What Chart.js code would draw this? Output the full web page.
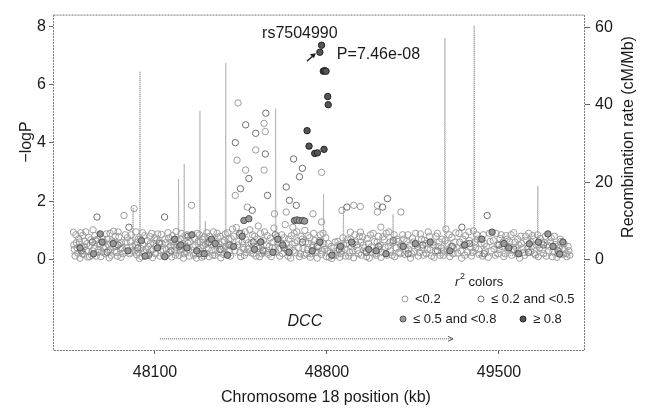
<!DOCTYPE html>
<html>
<head>
<meta charset="utf-8">
<script src="https://cdn.jsdelivr.net/npm/chart.js@4.4.1/dist/chart.umd.min.js"></script>
<style>
  body { margin: 0; background: #fff; }
  #wrap { width: 652px; height: 409px; position: relative; }
</style>
</head>
<body>
<div id="wrap"><canvas id="locus"></canvas></div>
<script>
// DATA (position in kb, -logP)
const xTicks = [48100, 48800, 49500];
const logpTicks = [0, 2, 4, 6, 8];
const recombTicks = [0, 20, 40, 60];

// r2 < 0.2
const lowPts = [
  [47768,0.94],[47772,0.35],[47775,0.12],[47780,0.58],[47786,0.22],[47790,0.71],[47795,0.05],[47801,0.44],
  [47806,0.83],[47810,0.18],[47815,0.62],[47820,0.31],[47826,0.09],[47831,0.76],[47836,0.48],[47842,0.15],
  [47848,1.02],[47852,0.38],[47858,0.66],[47868,0.25],[47873,0.55],[47880,0.1],[47886,0.72],[47890,0.42],
  [47897,0.2],[47902,0.88],[47908,0.52],[47914,0.06],[47919,0.33],[47925,0.64],[47931,0.97],[47936,0.28],
  [47941,0.45],[47947,0.12],[47953,0.78],[47959,0.36],[47964,0.58],[47970,0.2],[47974,1.51],[47979,0.85],
  [47985,0.4],[48000,0.62],[48005,0.3],[48015,1.75],[48020,0.5],[48026,0.16],[48031,0.7],[48037,0.04],
  [48043,0.38],[48049,0.92],[48055,0.24],[48066,0.14],[48072,0.45],[48078,0.8],[48084,0.3],[48090,0.07],
  [48096,0.55],[48102,0.2],[48108,0.68],[48114,0.42],[48120,0.12],[48126,0.86],[48132,0.34],[48144,0.58],
  [48150,0.18],[48156,0.74],[48162,0.46],[48168,0.09],[48174,0.62],[48180,0.3],[48186,0.96],[48192,0.52],
  [48198,0.15],[48204,0.7],[48210,0.38],[48216,0.05],[48222,0.82],[48228,0.27],[48234,0.56],[48240,0.12],
  [48249,1.86],[48254,0.44],[48260,0.72],[48266,0.2],[48272,0.9],[48278,0.35],[48284,0.6],[48290,0.08],
  [48296,0.48],[48302,0.78],[48308,0.22],[48314,0.55],[48320,0.1],[48326,0.68],[48332,0.32],[48338,0.95],
  [48344,0.15],[48350,0.5],[48356,0.75],[48362,0.28],[48368,0.06],[48374,0.6],[48380,0.4],[48386,0.88],
  [48392,0.18],[48398,0.52],[48404,0.3],[48410,0.72],[48416,1.05],[48427,2.2],[48434,3.41],[48438,5.37],
  [48440,0.62],[48446,0.25],[48452,0.9],[48458,0.42],[48469,3.07],[48476,1.8],[48510,3.76],[48544,4.67],
  [48549,4.39],[48544,3.07],[48586,1.57],[48634,1.63],[48661,1.11],[48743,1.57],[48723,0.82],[48778,2.99],
  [48778,1.29],[48464,0.15],[48470,0.68],[48478,0.36],[48486,1.02],[48492,0.55],[48500,0.2],[48506,0.8],
  [48514,0.44],[48520,1.15],[48526,0.1],[48532,0.62],[48538,0.34],[48546,0.95],[48554,0.5],[48562,0.18],
  [48570,0.74],[48578,0.4],[48584,1.08],[48592,0.26],[48600,0.6],[48608,0.12],[48616,0.85],[48622,0.46],
  [48630,1.2],[48638,0.3],[48644,0.7],[48652,0.05],[48658,0.52],[48666,0.9],[48672,0.24],[48680,0.64],
  [48688,0.1],[48694,0.8],[48702,0.38],[48710,1.0],[48716,0.2],[48724,0.55],[48732,0.08],[48738,0.42],
  [48746,0.9],[48754,0.3],[48760,0.05],[48768,0.65],[48776,0.18],[48784,0.9],[48790,0.35],[48798,0.1],
  [48806,0.55],[48812,0.22],[48820,0.04],[48828,0.4],[48836,0.15],[48844,0.62],[48852,0.08],[48861,1.69],
  [48860,0.3],[48868,0.5],[48876,0.12],[48884,0.7],[48895,0.94],[48892,0.25],[48900,0.45],[48909,1.86],
  [48908,0.06],[48916,0.6],[48924,0.32],[48932,0.8],[48936,1.82],[48936,0.94],[48940,0.15],[48948,0.5],
  [48956,0.28],[48964,0.72],[48972,0.05],[48980,0.44],[48988,0.9],[48996,0.2],[49005,1.86],[49005,1.63],
  [49004,0.6],[49012,0.35],[49019,1.11],[49020,0.08],[49028,0.78],[49036,0.42],[49044,0.15],[49052,0.95],
  [49060,0.3],[49068,0.58],[49076,0.1],[49084,0.7],[49092,0.25],[49101,1.63],[49100,0.48],[49108,0.85],
  [49116,0.18],[49124,0.62],[49132,0.36],[49140,0.05],[49148,0.74],[49156,0.28],[49164,0.52],[49172,0.12],
  [49180,0.88],[49188,0.4],[49196,0.66],[49204,0.2],[49212,0.95],[49220,0.34],[49228,0.58],[49236,0.08],
  [49244,0.8],[49252,0.45],[49260,0.15],[49268,0.7],[49276,0.3],[49284,1.05],[49292,0.55],[49300,0.1],
  [49308,0.76],[49316,0.38],[49324,0.92],[49332,0.22],[49340,0.6],[49348,0.05],[49356,0.48],[49364,0.82],
  [49372,0.26],[49380,0.65],[49388,0.12],[49396,0.98],[49404,0.4],[49412,0.7],[49420,0.18],[49428,0.55],
  [49436,0.85],[49444,0.3],[49456,0.08],[49464,0.62],[49480,0.36],[49488,0.9],[49496,0.2],[49504,0.72],
  [49512,0.45],[49520,0.1],[49528,0.82],[49536,0.32],[49544,0.6],[49552,0.15],[49560,0.92],[49568,0.42],
  [49576,0.7],[49584,0.05],[49592,0.55],[49600,0.25],[49608,0.8],[49616,0.38],[49630,0.6],[49637,0.82],
  [49644,0.2],[49652,0.5],[49660,0.1],[49668,0.72],[49676,0.34],[49684,0.58],[49692,0.12],[49706,0.45],
  [49712,0.75],[49720,0.27],[49728,0.52],[49736,0.08],[49744,0.4],[49752,0.62],[49760,0.18],[49768,0.35],
  [49776,0.1],[49784,0.3],
  [47770,0.5],[47778,0.85],[47783,0.4],[47793,0.6],[47798,0.92],[47804,0.2],[47812,0.45],[47818,0.95],
  [47823,0.55],[47829,0.28],[47834,0.1],[47839,0.68],[47845,0.3],[47855,0.82],[47861,0.12],[47866,0.7],
  [47871,0.35],[47877,0.5],[47883,0.26],[47893,0.6],[47899,0.45],[47905,0.7],[47911,0.3],[47917,0.9],
  [47922,0.15],[47928,0.42],[47933,0.6],[47939,0.8],[47944,0.25],[47950,0.95],[47956,0.55],[47962,0.08],
  [47967,0.4],[47977,0.3],[47982,0.6],[47988,0.75],[47997,0.2],[48003,0.85],[48009,0.45],[48018,0.3],
  [48023,0.95],[48029,0.6],[48034,0.25],[48040,0.7],[48046,0.1],[48052,0.5],[48058,0.82],[48063,0.35],
  [48069,0.65],[48075,0.2],[48081,0.55],[48087,0.9],[48093,0.35],[48099,0.75],[48105,0.45],[48111,0.88],
  [48117,0.6],[48123,0.3],[48129,0.55],[48135,0.15],[48141,0.7],[48147,0.35],[48153,0.92],[48159,0.25],
  [48165,0.6],[48171,0.82],[48177,0.5],[48183,0.15],[48189,0.42],[48195,0.65],[48201,0.3],[48207,0.9],
  [48213,0.55],[48219,0.2],[48225,0.45],[48231,0.85],[48237,0.35],[48243,0.62],[48257,0.15],[48263,0.5],
  [48269,0.05],[48275,0.62],[48281,0.85],[48287,0.4],[48293,0.7],[48299,0.12],[48305,0.52],[48311,0.92],
  [48317,0.38],[48323,0.8],[48329,0.5],[48335,0.15],[48341,0.65],[48347,0.3],[48353,0.9],[48359,0.55],
  [48365,0.8],[48371,0.35],[48377,0.18],[48383,0.65],[48389,0.45],[48395,0.92],[48401,0.7],[48407,0.12],
  [48413,0.45],[48420,0.8],[48425,0.3],[48431,1.1],[48437,0.5],[48443,0.85],[48449,0.1],[48455,0.6],
  [48461,0.35],[48467,0.95],[48473,0.25],[48481,0.58],[48489,0.3],[48497,0.85],[48503,0.45],[48511,0.12],
  [48517,0.7],[48523,0.38],[48529,0.9],[48535,0.2],[48541,0.65],[48549,0.28],[48557,0.82],[48565,0.45],
  [48573,0.1],[48581,0.6],[48589,0.4],[48597,0.78],[48605,0.35],[48613,0.55],[48619,0.2],[48627,0.75],
  [48635,0.55],[48641,0.12],[48649,0.4],[48655,0.82],[48663,0.3],[48669,0.58],[48677,0.95],[48685,0.4],
  [48691,0.2],[48699,0.7],[48707,0.15],[48713,0.6],[48721,0.35],[48729,0.75],[48735,0.2],[48743,0.5],
  [48751,0.65],[48757,0.25],[48765,0.4],[48773,0.85],[48781,0.3],[48787,0.55],[48795,0.75],[48803,0.3],
  [48809,0.08],[48817,0.45],[48825,0.15],[48833,0.6],[48841,0.3],[48849,0.5],[48857,0.2],[48865,0.75],
  [48873,0.35],[48881,0.55],[48889,0.12],[48897,0.7],[48905,0.3],[48913,0.85],[48921,0.5],[48929,0.2],
  [48937,0.6],[48945,0.78],[48953,0.4],[48961,0.1],[48969,0.55],[48977,0.85],[48985,0.25],[48993,0.62],
  [49001,0.15],[49009,0.8],[49017,0.5],[49025,0.25],[49033,0.68],[49041,0.9],[49049,0.45],[49057,0.6],
  [49065,0.15],[49073,0.85],[49081,0.4],[49089,0.62],[49097,0.2],[49105,0.5],[49113,0.7],[49121,0.3],
  [49129,0.85],[49137,0.5],[49145,0.2],[49153,0.6],[49161,0.9],[49169,0.4],[49177,0.25],[49185,0.7],
  [49193,0.15],[49201,0.55],[49209,0.35],[49217,0.8],[49225,0.12],[49233,0.5],[49241,0.3],[49249,0.9],
  [49257,0.6],[49265,0.4],[49273,0.15],[49281,0.65],[49289,0.3],[49297,0.85],[49305,0.45],[49313,0.2],
  [49321,0.6],[49329,0.4],[49337,0.9],[49345,0.3],[49353,0.7],[49361,0.15],[49369,0.55],[49377,0.95],
  [49385,0.4],[49393,0.25],[49401,0.6],[49409,0.85],[49417,0.35],[49425,0.7],[49433,0.12],[49441,0.55],
  [49449,0.45],[49461,0.9],[49469,0.3],[49477,0.65],[49485,0.15],[49493,0.5],[49501,0.35],[49509,0.85],
  [49517,0.6],[49525,0.2],[49533,0.7],[49541,0.45],[49549,0.85],[49557,0.3],[49565,0.6],[49573,0.2],
  [49581,0.5],[49589,0.8],[49597,0.4],[49605,0.15],[49613,0.65],[49621,0.9],[49629,0.3],[49635,0.45],
  [49641,0.7],[49649,0.15],[49657,0.85],[49665,0.4],[49673,0.6],[49681,0.2],[49689,0.8],[49697,0.5],
  [49703,0.3],[49709,0.6],[49717,0.1],[49725,0.8],[49733,0.45],[49741,0.2],[49749,0.7],[49757,0.35],
  [49765,0.55],[49773,0.2],[49781,0.45],[49788,0.15]
];

// 0.2 <= r2 < 0.5
const midPts = [
  [48427,4.01],[48469,4.62],[48510,4.33],[48551,5.02],[48549,3.62],[48482,2.78],[48448,2.43],[48558,2.2],
  [48634,2.49],[48647,2.03],[48675,1.86],[48496,1.69],[47864,1.46],[48139,1.46],[47994,1.11],[49026,1.8],
  [49046,2.09],[48881,1.8],[49349,1.11],[49452,1.51],[48664,3.45],[48700,3.13],[48688,2.84],
  [47800,0.3],[47845,0.6],[47905,0.25],[47950,0.5],[48030,0.4],[48075,0.15],[48118,0.55],[48165,0.3],
  [48200,0.45],[48235,0.8],[48280,0.2],[48320,0.6],[48365,0.35],[48405,0.5],[48445,0.9],[48500,0.6],
  [48540,0.3],[48590,0.85],[48625,0.4],[48700,0.6],[48760,0.45],[48850,0.35],[48905,0.55],[48960,0.25],
  [49010,0.45],[49070,0.65],[49130,0.2],[49190,0.5],[49250,0.3],[49310,0.45],[49380,0.55],[49440,0.2],
  [49500,0.5],[49560,0.35],[49620,0.25],[49680,0.5],[49740,0.3]
];

// 0.5 <= r2 < 0.8
const highPts = [
  [47877,0.88],[47885,0.6],[47990,0.3],[48060,0.12],[48110,0.4],[48205,0.5],[48250,0.85],[48300,0.2],
  [48330,0.7],[48462,1.34],[48482,1.4],[48455,0.8],[48530,0.6],[48580,0.25],[48620,0.5],[48668,1.34],
  [48678,1.36],[48688,1.34],[48700,1.34],[48709,1.32],[48740,0.3],[48771,0.6],[48855,0.45],[48970,0.35],
  [49040,0.2],[49160,0.55],[49300,0.3],[49472,0.94],[49520,0.55],[49623,0.54],[49699,0.88],[49747,0.19],
  [49760,0.6],[47795,0.4],[47850,0.2],[47930,0.55],[48045,0.65],[48140,0.1],[48180,0.7],[48230,0.4],
  [48270,0.3],[48345,0.55],[48395,0.15],[48420,0.45],[48505,0.35],[48600,0.7],[48645,0.25],[48820,0.15],
  [48900,0.6],[49000,0.3],[49110,0.45],[49220,0.6],[49360,0.5],[49430,0.7],[49540,0.4],[49580,0.2],
  [49660,0.6],[49720,0.45]
];

// r2 >= 0.8
const topPts = [
  [48771,7.11],[48778,7.35],[48785,6.46],[48790,6.48],[48796,6.46],[48803,5.59],[48805,5.31],
  [48719,4.42],[48727,3.89],[48750,3.64],[48761,3.66],[48788,3.78]
];

// recombination rate (kb, cM/Mb)
const recombPts = [
  [47760,1.5],[47990,1],[48009,1],[48011,13.4],[48013,1],[48037,1],[48039,48.6],[48041,1],
  [48092,1],[48094,6.4],[48096,1],[48194,1],[48196,20.8],[48198,1],[48217,1],[48219,24.7],[48221,1],
  [48281,1],[48283,38.4],[48285,1],[48303,1],[48305,9.9],[48307,1],[48386,1],[48388,50.8],[48390,1],
  [48589,1],[48591,39],[48593,1],[48784,1],[48786,16.9],[48788,1],[48865,1],[48867,13.4],[48869,1],
  [49067,1],[49069,11.7],[49071,1],[49278,1],[49280,57.3],[49282,1],[49397,1],[49399,60.4],[49401,1],
  [49656,1],[49658,19],[49660,1],[49790,1]
];

const topSnp = { pos: 48771, logp: 7.11, name: "rs7504990", p: "P=7.46e-08" };
const gene = { name: "DCC", start: 48120, end: 49313 };

const toXY = pts => pts.map(p => ({ x: p[0], y: p[1] }));
const FONT = "'Liberation Sans', Arial, sans-serif";

// marker styles per r2 class
const styles = {
  low:  { border: "#9c9c9c", fill: "rgba(255,255,255,0)" },
  mid:  { border: "#6e6e6e", fill: "rgba(255,255,255,0)" },
  high: { border: "#505050", fill: "#999" },
  top:  { border: "#222", fill: "#555" }
};

function drawMarker(ctx, x, y, st) {
  ctx.beginPath();
  ctx.arc(x, y, 3, 0, Math.PI * 2);
  ctx.fillStyle = st.fill;
  ctx.fill();
  ctx.strokeStyle = st.border;
  ctx.lineWidth = 1;
  ctx.stroke();
}

// text, legend, gene track, frame
const extras = {
  id: "extras",
  afterDatasetsDraw(chart) {
    const { ctx, chartArea: a, scales: { x, y } } = chart;
    ctx.save();

    // frame
    ctx.strokeStyle = "#777";
    ctx.lineWidth = 1;
    ctx.setLineDash([2, 1]);
    ctx.strokeRect(a.left + 0.5, a.top + 0.5, a.right - a.left - 1, a.bottom - a.top);
    ctx.setLineDash([]);

    ctx.fillStyle = "#1a1a1a";
    ctx.textBaseline = "middle";

    // top snp label + arrow
    const sx = x.getPixelForValue(topSnp.pos), sy = y.getPixelForValue(topSnp.logp);
    ctx.font = "16px " + FONT;
    ctx.textAlign = "center";
    ctx.fillText(topSnp.name, sx - 20, sy - 19);
    ctx.textAlign = "left";
    ctx.fillText(topSnp.p, sx + 17, sy + 2);
    ctx.strokeStyle = "#222";
    ctx.lineWidth = 1.5;
    ctx.beginPath();
    ctx.moveTo(sx - 13, sy + 9);
    ctx.lineTo(sx - 5, sy + 2);
    ctx.stroke();
    ctx.beginPath();
    ctx.moveTo(sx - 4, sy + 1);
    ctx.lineTo(sx - 10, sy + 2);
    ctx.lineTo(sx - 6, sy + 6);
    ctx.closePath();
    ctx.fillStyle = "#222";
    ctx.fill();

    // gene track
    const gy = y.getPixelForValue(-2.7);
    const g0 = x.getPixelForValue(gene.start), g1 = x.getPixelForValue(gene.end);
    ctx.strokeStyle = "#555";
    ctx.lineWidth = 1;
    ctx.setLineDash([1, 1]);
    ctx.beginPath();
    ctx.moveTo(g0, gy + 0.5);
    ctx.lineTo(g1, gy + 0.5);
    ctx.stroke();
    ctx.setLineDash([]);
    ctx.beginPath();
    ctx.moveTo(g1 - 5, gy - 2);
    ctx.lineTo(g1, gy + 0.5);
    ctx.lineTo(g1 - 5, gy + 3);
    ctx.stroke();
    ctx.fillStyle = "#1a1a1a";
    ctx.font = "italic 16px " + FONT;
    ctx.textAlign = "center";
    ctx.fillText(gene.name, x.getPixelForValue(48710), y.getPixelForValue(-2.12));

    // legend
    ctx.textAlign = "left";
    ctx.font = "italic 13px " + FONT;
    ctx.fillText("r", 455, 282);
    ctx.font = "9px " + FONT;
    ctx.fillText("2", 460, 277);
    ctx.font = "13px " + FONT;
    ctx.fillText(" colors", 465, 282);
    const items = [
      ["low", "<0.2", 405, 299],
      ["mid", "\u2264 0.2 and <0.5", 481, 299],
      ["high", "\u2264 0.5 and <0.8", 403, 319],
      ["top", "\u2265 0.8", 523, 319]
    ];
    items.forEach(([k, label, mx, my]) => {
      drawMarker(ctx, mx, my, styles[k]);
      ctx.fillStyle = "#1a1a1a";
      ctx.font = "13px " + FONT;
      ctx.fillText(label, mx + 10, my);
    });

    // axis titles
    ctx.font = "16px " + FONT;
    ctx.textAlign = "center";
    ctx.fillText("Chromosome 18 position (kb)", 326, 398);
    ctx.save();
    ctx.translate(27, 142);
    ctx.rotate(-Math.PI / 2);
    ctx.fillText("\u2212logP", 0, 0);
    ctx.restore();
    ctx.save();
    ctx.translate(629, 137);
    ctx.rotate(-Math.PI / 2);
    ctx.fillText("Recombination rate (cM/Mb)", 0, 0);
    ctx.restore();

    ctx.restore();
  }
};

const pointSet = (pts, st, order) => ({
  data: toXY(pts),
  yAxisID: "y",
  pointRadius: 3.2,
  pointBorderWidth: 1,
  pointBorderColor: st.border,
  pointBackgroundColor: st.fill,
  showLine: false,
  order: order
});

new Chart(document.getElementById("locus"), {
  type: "scatter",
  data: {
    datasets: [
      {
        data: toXY(recombPts),
        yAxisID: "y2",
        showLine: true,
        pointRadius: 0,
        borderColor: "#999",
        borderWidth: 1,
        borderDash: [1, 1],
        tension: 0,
        order: 5
      },
      pointSet(lowPts, styles.low, 4),
      pointSet(midPts, styles.mid, 3),
      pointSet(highPts, styles.high, 2),
      pointSet(topPts, styles.top, 1)
    ]
  },
  options: {
    responsive: true,
    maintainAspectRatio: false,
    animation: false,
    layout: { padding: { top: 12, left: 0, right: 0, bottom: 0 } },
    plugins: { legend: { display: false }, tooltip: { enabled: false } },
    scales: {
      x: {
        type: "linear",
        min: 47685,
        max: 49850,
        afterBuildTicks: s => { s.ticks = xTicks.map(v => ({ value: v })); },
        afterFit: s => { s.height = 59; },
        ticks: { color: "#1a1a1a", font: { size: 16, family: FONT }, padding: 9, callback: v => String(v), maxRotation: 0 },
        grid: { drawOnChartArea: false, tickLength: 4, color: "#666" },
        border: { display: false }
      },
      y: {
        position: "left",
        min: -3.1,
        max: 8.4,
        afterBuildTicks: s => { s.ticks = logpTicks.map(v => ({ value: v })); },
        afterFit: s => { s.width = 53; },
        ticks: { color: "#1a1a1a", font: { size: 16, family: FONT }, padding: 3 },
        grid: { drawOnChartArea: false, tickLength: 4, color: "#666" },
        border: { display: false }
      },
      y2: {
        position: "right",
        min: -23.4,
        max: 63.3,
        afterBuildTicks: s => { s.ticks = recombTicks.map(v => ({ value: v })); },
        afterFit: s => { s.width = 67; },
        ticks: { color: "#1a1a1a", font: { size: 16, family: FONT }, padding: 5 },
        grid: { drawOnChartArea: false, tickLength: 5, color: "#666" },
        border: { display: false }
      }
    }
  },
  plugins: [extras]
});
</script>
</body>
</html>
